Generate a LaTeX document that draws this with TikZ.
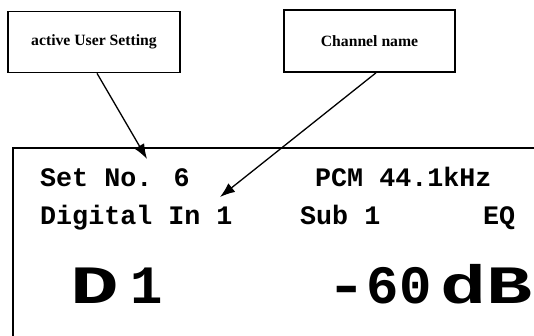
\documentclass[tikz,border=0pt]{standalone}
\usepackage{graphicx}
\usepackage{fontspec}
\setmainfont{Liberation Serif}
\newfontfamily\lcd{Liberation Mono}
\usetikzlibrary{arrows.meta}
\tikzset{
  label box/.style={draw, line width=1.6pt, minimum width=172pt, minimum height=61pt, inner sep=0pt, font=\bfseries\fontsize{15.7}{18}\selectfont},
  small lcd/.style={anchor=base west, inner sep=0pt, font=\lcd\bfseries\fontsize{26.7}{28}\selectfont},
  big lcd/.style={anchor=base west, inner sep=0pt, font=\lcd\bfseries\fontsize{54}{56}\selectfont},
  pointer/.style={line width=1.3pt, -{Latex[length=15pt,width=11pt]}}
}
\begin{document}
\begin{tikzpicture}[x=1pt,y=-1pt]
\useasboundingbox (0,0) rectangle (534,336);
\begin{scope}
\clip (0,0) rectangle (534,336);
\draw[line width=1.6pt] (13,345) -- (13,148) -- (545,148);
\end{scope}
\node[label box] (b1) at (94,42) {active User Setting};
\node[label box, minimum width=171pt, minimum height=62pt] (b2) at (369.5,41) {Channel name};
\coordinate (t1) at (147,159);
\coordinate (t2) at (220,197);
\draw[pointer] ([xshift=3pt]b1.south) -- (t1);
\draw[pointer] ([xshift=6.5pt]b2.south) -- (t2);
\node[small lcd] (set) at (40,187) {Set No. 6};
\node[small lcd] (pcm) at (315,187) {PCM 44.1kHz};
\node[small lcd] (din) at (40,225) {Digital In 1};
\node[small lcd] (sub) at (300,225) {Sub 1};
\node[small lcd] (eq) at (483,225) {EQ};
\node[big lcd] (d1) at (70,303) {\scalebox{1.5}[1]{D}\hspace{12pt}1};
\node[big lcd] (db) at (326,303) {\scalebox{1.25}[1]{-}60\hspace{8.8pt}\scalebox{1.42}[1]{dB}};
\end{tikzpicture}
\end{document}
